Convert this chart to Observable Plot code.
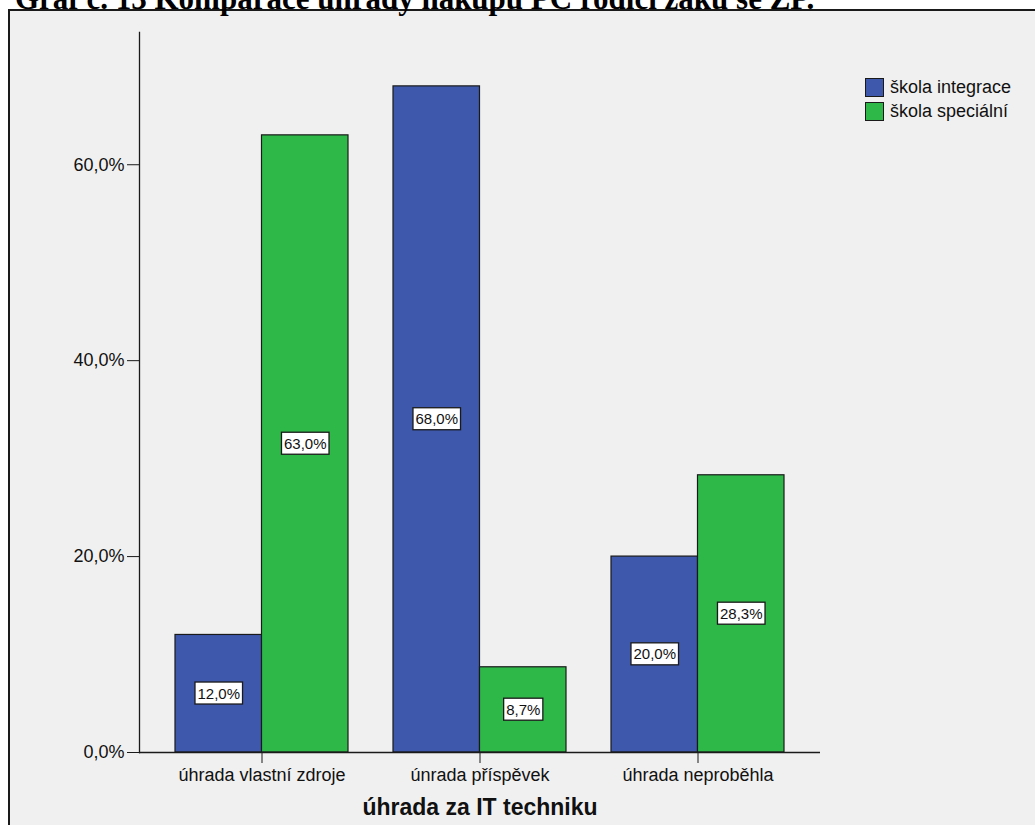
<!DOCTYPE html>
<html>
<head>
<meta charset="utf-8">
<script src="https://cdn.jsdelivr.net/npm/d3@7"></script>
<script src="https://cdn.jsdelivr.net/npm/@observablehq/plot@0.6"></script>
<style>
  body { margin: 0; background: #fff; width: 1035px; height: 825px; overflow: hidden; position: relative;
         font-family: "Liberation Sans", Arial, sans-serif; }
  #frame { position: absolute; left: 8px; top: 9px; width: 1100px; height: 900px;
           border-top: 2px solid #1a1a1a; border-left: 2px solid #1a1a1a; background: #f0f0f0; }
  #title { position: absolute; left: 15px; top: -17px; white-space: nowrap; color: #000;
           font: bold 31px/1 "Liberation Serif", "Times New Roman", serif; }
  #chart { position: absolute; left: 0; top: 0; }
  #legend { position: absolute; left: 865px; top: 75px; font-size: 18px; color: #111; }
  #legend .row { display: flex; align-items: center; height: 24.5px; }
  #legend .sw { width: 17px; height: 17px; border: 1px solid #1a1a1a; margin-right: 6px; }
</style>
</head>
<body>
<div id="frame"></div>
<div id="title">Graf č. 13 Komparace úhrady nákupu PC rodiči žáků se ZP.</div>
<div id="chart"></div>
<div id="legend"></div>
<script>
// Categories, series and values (percent of pupils)
const categories = ["úhrada vlastní zdroje", "únrada příspěvek", "úhrada neproběhla"];
const series = ["škola integrace", "škola speciální"];
const integrace = [12.0, 68.0, 20.0];
const specialni = [63.0, 8.7, 28.3];
const yTicks = [0, 20, 40, 60];
const xTitle = "úhrada za IT techniku";
const colors = ["#3e58ac", "#2eb848"];

const rows = categories.map((category, i) => ({category, integrace: integrace[i], specialni: specialni[i]}));
const fmt = v => v.toFixed(1).replace(".", ",") + "%";

// each category band holds two adjacent bars, one per half
const half = 86.5;
const ink = "#1a1a1a";

const chart = Plot.plot({
  width: 1035,
  height: 825,
  marginLeft: 139,
  marginRight: 215,
  marginTop: 32,
  marginBottom: 73,
  style: {background: "transparent", fontFamily: "'Liberation Sans', Arial, sans-serif", color: "#111"},
  x: {domain: categories, paddingInner: 0.208, paddingOuter: 0.1625},
  y: {domain: [0, 73.5]},
  marks: [
    Plot.barY(rows, {x: "category", y: "integrace", fill: colors[0], stroke: ink, strokeWidth: 1.2, insetLeft: 0, insetRight: half}),
    Plot.barY(rows, {x: "category", y: "specialni", fill: colors[1], stroke: ink, strokeWidth: 1.2, insetLeft: half, insetRight: 0}),
    Plot.ruleY([0], {stroke: ink, strokeWidth: 1.3}),
    Plot.frame({anchor: "left", stroke: ink, strokeWidth: 1.3}),
    Plot.axisY({ticks: yTicks, tickSize: 12, tickPadding: 3, tickFormat: fmt, fontSize: 18, label: null, stroke: ink, strokeOpacity: 1}),
    Plot.axisX({tickSize: 11, tickPadding: 5, fontSize: 18, label: null, stroke: ink, strokeOpacity: 1}),
    Plot.text([xTitle], {frameAnchor: "bottom", lineAnchor: "bottom", dy: 62, fontSize: 23, fontWeight: "bold", fill: "#111"}),
    Plot.text(rows, {x: "category", y: d => d.integrace / 2, text: d => fmt(d.integrace), dx: -half / 2,
                     fontSize: 15, fill: "#111", className: "value-label"}),
    Plot.text(rows, {x: "category", y: d => d.specialni / 2, text: d => fmt(d.specialni), dx: half / 2,
                     fontSize: 15, fill: "#111", className: "value-label"})
  ]
});

document.getElementById("chart").append(chart);

// white boxed backgrounds behind the value labels (same transform as each label)
chart.querySelectorAll(".value-label text").forEach(t => {
  const b = t.getBBox();
  const r = document.createElementNS("http://www.w3.org/2000/svg", "rect");
  r.setAttribute("x", b.x - 2.5);
  r.setAttribute("y", b.y - 2.5);
  r.setAttribute("width", b.width + 5);
  r.setAttribute("height", b.height + 5);
  r.setAttribute("fill", "#fff");
  r.setAttribute("stroke", ink);
  r.setAttribute("stroke-width", 1.3);
  const tr = t.getAttribute("transform");
  if (tr) r.setAttribute("transform", tr);
  t.parentNode.insertBefore(r, t);
});

// legend
const legend = d3.select("#legend");
series.forEach((s, i) => {
  const row = legend.append("div").attr("class", "row");
  row.append("div").attr("class", "sw").style("background", colors[i]);
  row.append("span").text(s);
});
</script>
</body>
</html>
